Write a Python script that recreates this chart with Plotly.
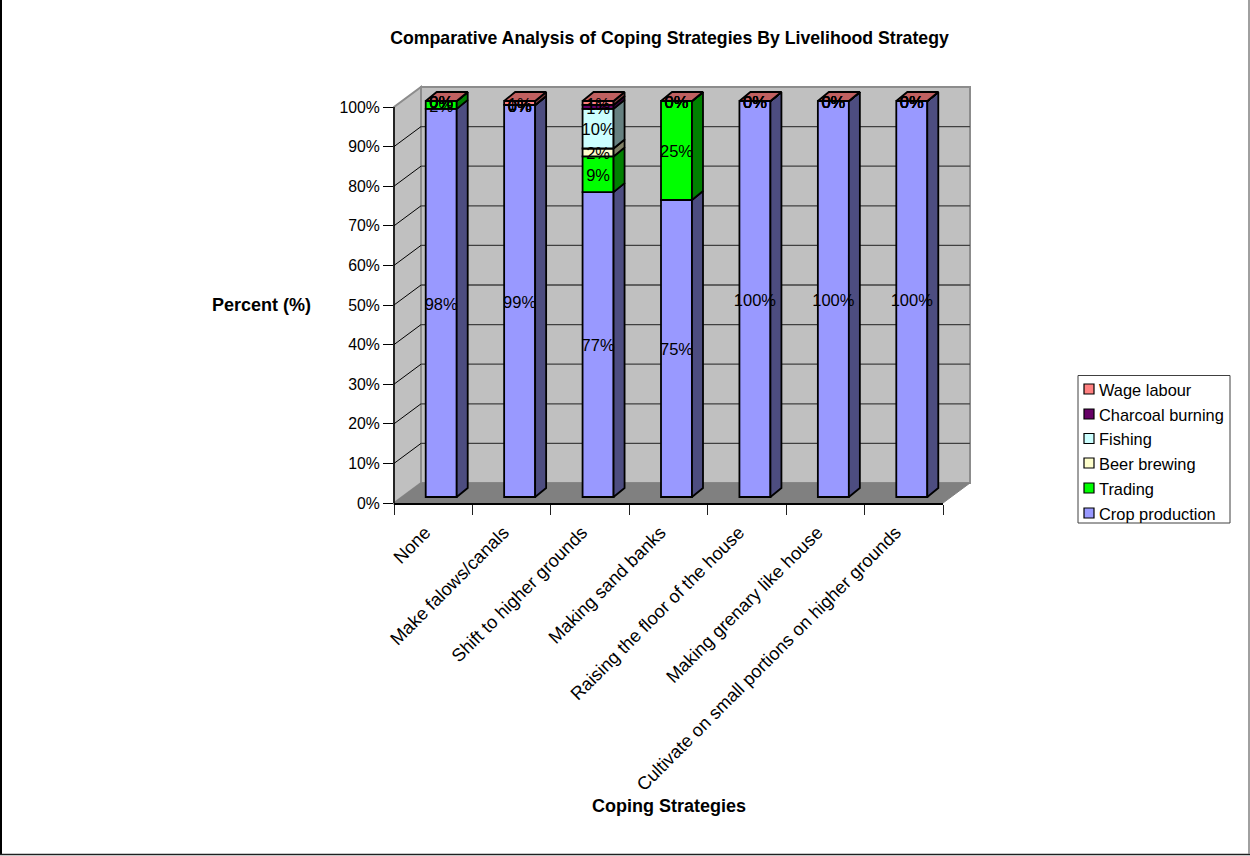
import plotly.graph_objects as go

# Coping strategies (categories) and share of each livelihood strategy, in percent
categories = [
    "None",
    "Make falows/canals",
    "Shift to higher grounds",
    "Making sand banks",
    "Raising the floor of the house",
    "Making grenary like house",
    "Cultivate on small portions on higher grounds",
]
crop_production = [98, 99, 77, 75, 100, 100, 100]
trading = [2, 0, 9, 25, 0, 0, 0]
beer_brewing = [0, 0, 2, 0, 0, 0, 0]
fishing = [0, 0, 10, 0, 0, 0, 0]
charcoal_burning = [0, 0, 1, 0, 0, 0, 0]
wage_labour = [0, 1, 1, 0, 0, 0, 0]

series_names = ["Crop production", "Trading", "Beer brewing", "Fishing", "Charcoal burning", "Wage labour"]
series_values = [crop_production, trading, beer_brewing, fishing, charcoal_burning, wage_labour]
front_colors = ["#9999FF", "#00FF00", "#FFFFCC", "#CCFFFF", "#660066", "#FF8080"]
side_colors = ["#4D4D80", "#008000", "#808066", "#668080", "#330033", "#804040"]
top_color = "#C06060"

percent_ticks = list(range(0, 101, 10))

FONT = "Liberation Sans, Arial, sans-serif"
W, H = 1250, 856

# Front plane of the plot box, in pixels
PLOT_L, PLOT_R, PLOT_B, PLOT_T = 394.0, 943.0, 503.0, 107.0
CAT_PX = (PLOT_R - PLOT_L) / len(categories)
PCT_PX = (PLOT_B - PLOT_T) / 100.0

# The y axis runs past 100 so the receding faces above the front plane stay in the plot area
Y_MAX = 115
AXIS_TOP = PLOT_B - Y_MAX * PCT_PX

# Oblique projection offsets, in axis units
WALL_DX, WALL_DY = 27 / CAT_PX, 20 / PCT_PX      # box depth
BAR_DX, BAR_DY = 11 / CAT_PX, 9 / PCT_PX         # bar depth
BAR_SHIFT_X, BAR_SHIFT_Y = 8 / CAT_PX, 6 / PCT_PX  # bars stand inside the box
BAR_WIDTH = 31 / CAT_PX
BAR_LEFT = -BAR_WIDTH / 2 + BAR_SHIFT_X
LABEL_DROP = 2.5 / PCT_PX                         # optical centring of the value labels
TICK_LABEL_SHIFT = 8 / CAT_PX                     # rotated labels end just left of the category centre
EDGE = 1.8


def px(cat):
    return (PLOT_L + (cat + 0.5) * CAT_PX) / W


def py(pct):
    return 1 - (PLOT_B - pct * PCT_PX) / H


def poly(points, close=True):
    """SVG path, in paper coordinates, through points given in axis units."""
    return "M" + "L".join(f"{px(c):.6f},{py(p):.6f}" for c, p in points) + ("Z" if close else "")


def paper_line(x0, y0, x1, y1, color, width):
    """Straight line given in pixels from the top-left corner of the page."""
    return dict(type="line", xref="paper", yref="paper", x0=x0 / W, x1=x1 / W,
                y0=1 - y0 / H, y1=1 - y1 / H, line=dict(color=color, width=width))


x_lo, x_hi = -0.5, len(categories) - 0.5

shapes = []
# Back wall, side wall and floor of the box
shapes.append(dict(type="path", xref="paper", yref="paper", layer="below",
                   path=poly([(x_lo + WALL_DX, WALL_DY), (x_hi + WALL_DX, WALL_DY),
                              (x_hi + WALL_DX, 100 + WALL_DY), (x_lo + WALL_DX, 100 + WALL_DY)]),
                   fillcolor="#C0C0C0", line=dict(color="#8C8C8C", width=2)))
shapes.append(dict(type="path", xref="paper", yref="paper", layer="below",
                   path=poly([(x_lo, 0), (x_lo + WALL_DX, WALL_DY),
                              (x_lo + WALL_DX, 100 + WALL_DY), (x_lo, 100)]),
                   fillcolor="#C0C0C0", line=dict(color="#8C8C8C", width=2)))
# Gridlines run down the side wall and across the back wall
for t in percent_ticks[1:-1]:
    shapes.append(dict(type="path", xref="paper", yref="paper", layer="below",
                       path=poly([(x_lo, t), (x_lo + WALL_DX, t + WALL_DY)], close=False),
                       line=dict(color="black", width=1)))
    shapes.append(dict(type="path", xref="paper", yref="paper", layer="below",
                       path=poly([(x_lo + WALL_DX, t + WALL_DY), (x_hi + WALL_DX, t + WALL_DY)], close=False),
                       line=dict(color="#404040", width=1.3)))
shapes.append(dict(type="path", xref="paper", yref="paper", layer="below",
                   path=poly([(x_lo, 0), (x_lo + WALL_DX, WALL_DY), (x_hi + WALL_DX, WALL_DY), (x_hi, 0)]),
                   fillcolor="#808080", line=dict(color="#808080", width=1)))
# Value axis line stops at 100 although the axis range goes further
shapes.append(dict(type="path", xref="paper", yref="paper", path=poly([(x_lo, 0), (x_lo, 100)], close=False),
                   line=dict(color="black", width=1.5)))

# Legend box and swatches
LEG_L, LEG_R, LEG_T, LEG_B = 1078, 1230, 375.5, 523
legend_y = [389, 414, 438.5, 463, 488, 513]
shapes.append(dict(type="rect", xref="paper", yref="paper",
                   x0=LEG_L / W, x1=LEG_R / W, y0=1 - LEG_T / H, y1=1 - LEG_B / H,
                   fillcolor="white", line=dict(color="#404040", width=1)))
annotations = []
for name, color, ly in zip(reversed(series_names), reversed(front_colors), legend_y):
    shapes.append(dict(type="rect", xref="paper", yref="paper",
                       x0=1084 / W, x1=1094 / W, y0=1 - (ly - 5) / H, y1=1 - (ly + 5) / H,
                       fillcolor=color, line=dict(color="black", width=1.2)))
    annotations.append(dict(xref="paper", yref="paper", x=1096.5 / W, y=1 - (ly + 0.5) / H, text=name,
                            showarrow=False, xanchor="left", yanchor="middle",
                            font=dict(family=FONT, size=16.4, color="black")))

# Outer chart frame: left and bottom in black, right edge in gray
shapes.append(paper_line(1, 0, 1, 855, "black", 2))
shapes.append(paper_line(0, 854.5, 1250, 854.5, "#202020", 1.5))
shapes.append(paper_line(1249, 0, 1249, 854, "#808080", 1.5))

annotations.append(dict(xref="paper", yref="paper", x=261 / W, y=1 - 305 / H, text="<b>Percent (%)</b>",
                        showarrow=False, xanchor="center", yanchor="middle",
                        font=dict(family=FONT, size=18, color="black")))
annotations.append(dict(xref="paper", yref="paper", x=669 / W, y=1 - 806 / H, text="<b>Coping Strategies</b>",
                        showarrow=False, xanchor="center", yanchor="middle",
                        font=dict(family=FONT, size=18, color="black")))

fig = go.Figure()
positions = list(range(len(categories)))
cum = [0.0] * len(categories)
side_traces, top_x, top_y, label_x, label_y, label_text = [], [], [], [], [], []

for name, values, fc, sc in zip(series_names, series_values, front_colors, side_colors):
    # Front faces of the stacked segments
    fig.add_trace(go.Bar(x=positions, y=values, base=[b + BAR_SHIFT_Y for b in cum], name=name,
                         width=BAR_WIDTH, offset=BAR_LEFT, showlegend=False,
                         marker=dict(color=fc, line=dict(color="black", width=EDGE))))
    # Receding right-hand faces
    sx, sy = [], []
    for i, v in enumerate(values):
        xr = i + BAR_LEFT + BAR_WIDTH
        y0 = cum[i] + BAR_SHIFT_Y
        sx += [xr, xr + BAR_DX, xr + BAR_DX, xr, xr, None]
        sy += [y0, y0 + BAR_DY, y0 + v + BAR_DY, y0 + v, y0, None]
        label_x.append(i + BAR_SHIFT_X)
        label_y.append(y0 + v / 2 - LABEL_DROP)
        label_text.append(f"{v}%")
    side_traces.append(go.Scatter(x=sx, y=sy, mode="lines", fill="toself", fillcolor=sc,
                                  line=dict(color="black", width=EDGE), hoverinfo="skip", showlegend=False))
    cum = [c + v for c, v in zip(cum, values)]

# Top faces sit on whichever height each stack reaches
for i, total in enumerate(cum):
    xl = i + BAR_LEFT
    y0 = total + BAR_SHIFT_Y
    top_x += [xl, xl + BAR_WIDTH, xl + BAR_WIDTH + BAR_DX, xl + BAR_DX, xl, None]
    top_y += [y0, y0, y0 + BAR_DY, y0 + BAR_DY, y0, None]

for tr in side_traces:
    fig.add_trace(tr)
fig.add_trace(go.Scatter(x=top_x, y=top_y, mode="lines", fill="toself", fillcolor=top_color,
                         line=dict(color="black", width=EDGE), hoverinfo="skip", showlegend=False))
fig.add_trace(go.Scatter(x=label_x, y=label_y, mode="text", text=label_text, textposition="middle center",
                         showlegend=False, hoverinfo="skip",
                         textfont=dict(family=FONT, size=16.5, color="black")))

fig.update_layout(
    width=W, height=H, autosize=False,
    margin=dict(l=0, r=0, t=0, b=0, pad=0, autoexpand=False),
    paper_bgcolor="white", plot_bgcolor="rgba(0,0,0,0)",
    barmode="overlay", showlegend=False,
    shapes=shapes, annotations=annotations,
    title=dict(text="<b>Comparative Analysis of Coping Strategies By Livelihood Strategy</b>",
               x=669.5 / W, y=1 - 38 / H, xanchor="center", yanchor="middle",
               font=dict(family=FONT, size=17.7, color="black")),
    xaxis=dict(domain=[PLOT_L / W, PLOT_R / W], range=[x_lo, x_hi], tickmode="array",
               tickvals=[p - TICK_LABEL_SHIFT for p in positions], ticktext=categories, tickangle=-45,
               ticks="", showgrid=False, zeroline=False, showline=True, linecolor="black", linewidth=1.5,
               ticklabelstandoff=10, tickfont=dict(family=FONT, size=18.2, color="black"),
               minor=dict(tickmode="array", tickvals=[i - 0.5 for i in range(len(categories) + 1)],
                          ticks="outside", ticklen=10, tickcolor="#202020", tickwidth=1, showgrid=False)),
    yaxis=dict(domain=[1 - PLOT_B / H, 1 - AXIS_TOP / H], range=[0, Y_MAX], tickmode="array",
               tickvals=percent_ticks, ticktext=[f"{t}%" for t in percent_ticks], ticks="outside",
               ticklen=10, tickcolor="black", tickwidth=1, showgrid=False, zeroline=False,
               showline=False, tickfont=dict(family=FONT, size=15.8, color="black")),
)

fig.write_html("out.html")
